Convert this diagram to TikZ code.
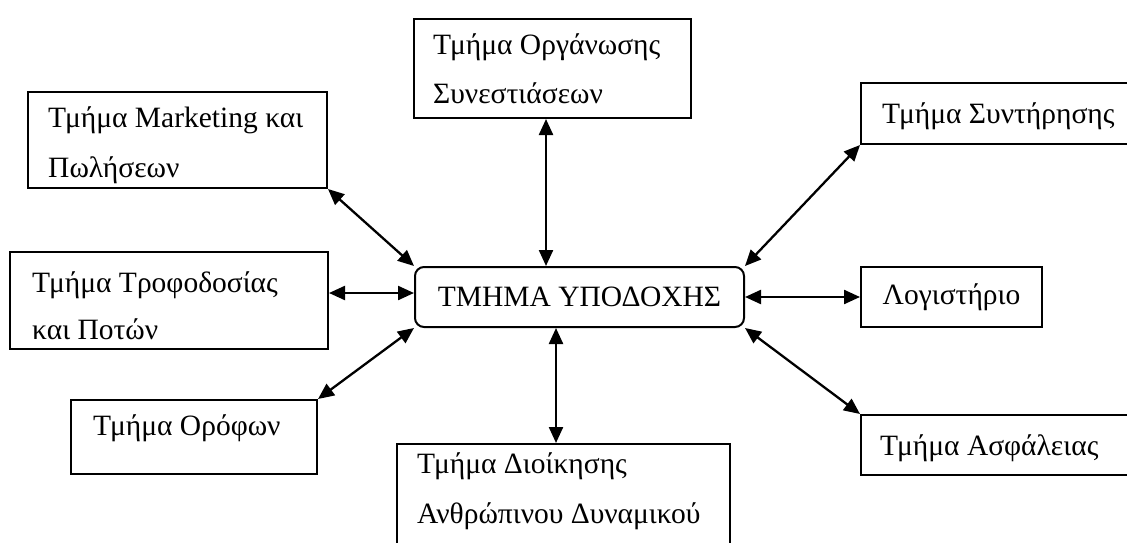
\documentclass[tikz,border=0pt]{standalone}
\usepackage{fontspec}
\setmainfont{Liberation Serif}
\usetikzlibrary{arrows.meta,calc}
\begin{document}
\begin{tikzpicture}[x=1pt,y=-1pt,
  box/.style={draw, line width=2pt, rectangle, inner sep=0pt, anchor=north west},
  lbl/.style={anchor=base west, inner sep=0pt, font=\fontsize{29.5}{34}\selectfont},
  arr/.style={line width=2.3pt, {Triangle[length=16pt,width=14pt]}-{Triangle[length=16pt,width=14pt]}}]
\useasboundingbox (0,0) rectangle (1127,543);
% boxes
\node[box, minimum width=299pt, minimum height=96pt] (mkt) at (27,91) {};
\node[box, minimum width=277pt, minimum height=99pt] (org) at (413,18) {};
\node[box, minimum width=270pt, minimum height=61pt] (syn) at (860,82) {};
\node[box, minimum width=318pt, minimum height=97pt] (tro) at (9,251) {};
\node[box, rounded corners=9pt, minimum width=329pt, minimum height=60pt, font=\fontsize{29.5}{34}\selectfont] (ctr) at (414,266) {ΤΜΗΜΑ ΥΠΟΔΟΧΗΣ};
\node[box, minimum width=181pt, minimum height=60pt, font=\fontsize{29.5}{34}\selectfont] (log) at (860,266) {Λογιστήριο};
\node[box, minimum width=246pt, minimum height=74pt] (oro) at (70,399) {};
\node[box, minimum width=333pt, minimum height=117pt] (dio) at (396,443) {};
\node[box, minimum width=270pt, minimum height=60pt] (asf) at (860,414) {};
% texts
\node[lbl] (mkt1) at (48,127) {Τμήμα Marketing και};
\node[lbl] (mkt2) at (48,177) {Πωλήσεων};
\node[lbl] (org1) at (433,55) {Τμήμα Οργάνωσης};
\node[lbl] (org2) at (433,103) {Συνεστιάσεων};
\node[lbl] (syn1) at (882,123) {Τμήμα Συντήρησης};
\node[lbl] (tro1) at (32,292) {Τμήμα Τροφοδοσίας};
\node[lbl] (tro2) at (32,339) {και Ποτών};
\node[lbl] (oro1) at (93,435) {Τμήμα Ορόφων};
\node[lbl] (dio1) at (417,473) {Τμήμα Διοίκησης};
\node[lbl] (dio2) at (417,523) {Ανθρώπινου Δυναμικού};
\node[lbl] (asf1) at (880,455) {Τμήμα Ασφάλειας};
% connectors
\draw[arr] (mkt.south east) -- (ctr.north west);
\draw[arr] ($(org.south west)+(133,0)$) -- ($(ctr.north west)+(132,0)$);
\draw[arr] (syn.south west) -- (ctr.north east);
\draw[arr] ($(tro.north east)+(0,42)$) -- ($(ctr.north west)+(0,27)$);
\draw[arr] (ctr.east) -- (log.west);
\draw[arr] (oro.north east) -- (ctr.south west);
\draw[arr] ($(ctr.south west)+(142,0)$) -- ($(dio.north west)+(160,0)$);
\draw[arr] (ctr.south east) -- (asf.north west);
\end{tikzpicture}
\end{document}
